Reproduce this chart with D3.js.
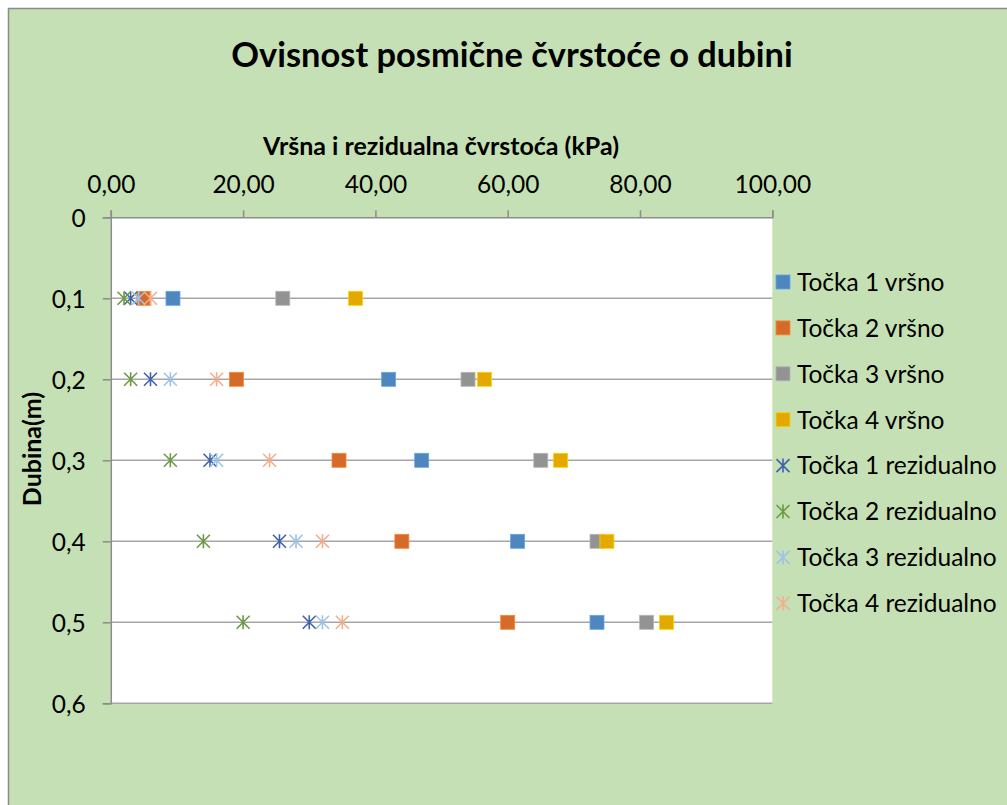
<!DOCTYPE html>
<html>
<head>
<meta charset="utf-8">
<script src="https://cdn.jsdelivr.net/npm/d3@7"></script>
<style>
  body { margin: 0; background: #fff; }
  text { font-family: Lato, "Open Sans", sans-serif; fill: #000; }
</style>
</head>
<body>
<svg></svg>
<script>
// depths (m) and strengths (kPa)
var depths = [0.1, 0.2, 0.3, 0.4, 0.5];
var t1Vrsno = [9.4, 42.0, 47.0, 61.5, 73.5];
var t2Vrsno = [5.0, 19.0, 34.5, 44.0, 60.0];
var t3Vrsno = [26.0, 54.0, 65.0, 73.5, 81.0];
var t4Vrsno = [37.0, 56.5, 68.0, 75.0, 84.0];
var t1Rez = [3.0, 6.0, 15.0, 25.5, 30.0];
var t2Rez = [2.0, 3.0, 9.0, 14.0, 20.0];
var t3Rez = [4.2, 9.0, 16.0, 28.0, 32.0];
var t4Rez = [6.0, 16.0, 24.0, 32.0, 35.0];
var xTicks = [0, 20, 40, 60, 80, 100];
var yTicks = [0, 0.1, 0.2, 0.3, 0.4, 0.5, 0.6];

var series = [
    { name: 'Točka 1 vršno', values: t1Vrsno, shape: 'square', color: '#4f86bd' },
    { name: 'Točka 2 vršno', values: t2Vrsno, shape: 'square', color: '#d56b2a' },
    { name: 'Točka 3 vršno', values: t3Vrsno, shape: 'square', color: '#939393' },
    { name: 'Točka 4 vršno', values: t4Vrsno, shape: 'square', color: '#e3a900' },
    { name: 'Točka 1 rezidualno', values: t1Rez, shape: 'star', color: '#3f62ae' },
    { name: 'Točka 2 rezidualno', values: t2Rez, shape: 'star', color: '#6b9a42' },
    { name: 'Točka 3 rezidualno', values: t3Rez, shape: 'star', color: '#9ec2e8' },
    { name: 'Točka 4 rezidualno', values: t4Rez, shape: 'star', color: '#f3ae8c' }
];

document.addEventListener("DOMContentLoaded", (event) => {
    drawChart();
});

function drawMarker(sel, shape, color) {
    if (shape === 'square') {
        sel.append('rect')
            .attr('x', -7).attr('y', -7)
            .attr('width', 14).attr('height', 14)
            .attr('fill', color)
            .attr('stroke', d3.color(color).brighter(0.6))
            .attr('stroke-width', 0.8);
    } else {
        var s = 6.5;
        sel.append('path')
            .attr('d', 'M' + (-s) + ',' + (-s) + 'L' + s + ',' + s +
                       'M' + (-s) + ',' + s + 'L' + s + ',' + (-s) +
                       'M0,' + (-s - 0.5) + 'L0,' + (s + 0.5))
            .attr('fill', 'none')
            .attr('stroke', color)
            .attr('stroke-width', 1.6);
    }
}

function drawChart() {
    var svgWidth = 1007, svgHeight = 805;
    var plot = { left: 110.8, top: 217.3, right: 772.3, bottom: 703.3 };
    var width = plot.right - plot.left;
    var height = plot.bottom - plot.top;

    var svg = d3.select('svg')
        .attr('width', svgWidth)
        .attr('height', svgHeight);

    // chart area
    svg.append('rect')
        .attr('x', 8.5).attr('y', 8.5)
        .attr('width', 1020).attr('height', 820)
        .attr('fill', '#c5e0b4')
        .attr('stroke', '#8c8c8c')
        .attr('stroke-width', 1.5);

    var g = svg.append('g')
        .attr('transform', 'translate(' + plot.left + ',' + plot.top + ')');

    g.append('rect')
        .attr('width', width).attr('height', height)
        .attr('fill', '#fff');

    var x = d3.scaleLinear().domain([0, 100]).range([0, width]);
    var y = d3.scaleLinear().domain([0, 0.6]).range([0, height]);

    // horizontal gridlines
    g.selectAll('.grid')
        .data(yTicks.slice(1))
        .enter().append('line')
        .attr('x1', 0).attr('x2', width)
        .attr('y1', (d) => y(d)).attr('y2', (d) => y(d))
        .attr('stroke', '#a6a6a6')
        .attr('stroke-width', 1.5);

    var xAxis = g.append('g')
        .call(d3.axisTop(x).tickValues(xTicks).tickSize(7).tickPadding(17)
            .tickFormat((d) => d3.format('.2f')(d).replace('.', ',')));

    var yAxis = g.append('g')
        .call(d3.axisLeft(y).tickValues(yTicks).tickSize(8).tickPadding(17)
            .tickFormat((d) => d === 0 ? '0' : d3.format('.1f')(d).replace('.', ',')));

    [xAxis, yAxis].forEach((a) => {
        a.select('.domain').attr('stroke', '#8c8c8c').attr('stroke-width', 1.5);
        a.selectAll('.tick line').attr('stroke', '#8c8c8c').attr('stroke-width', 1.5);
        a.selectAll('.tick text')
            .attr('font-family', 'Lato, sans-serif')
            .attr('font-size', 24.5)
            .attr('fill', '#000');
    });
    yAxis.selectAll('.tick text').attr('dy', '0.36em');

    // markers
    series.forEach((s) => {
        var pts = g.append('g').selectAll('g')
            .data(s.values.map((v, i) => ({ v: v, d: depths[i] })))
            .enter().append('g')
            .attr('transform', (d) => 'translate(' + x(d.v) + ',' + y(d.d) + ')');
        drawMarker(pts, s.shape, s.color);
    });

    // titles
    svg.append('text')
        .attr('x', 512).attr('y', 67)
        .attr('text-anchor', 'middle')
        .attr('font-size', 34.4).attr('font-weight', 'bold')
        .text('Ovisnost posmične čvrstoće o dubini');

    svg.append('text')
        .attr('x', 441).attr('y', 155)
        .attr('text-anchor', 'middle')
        .attr('font-size', 25).attr('font-weight', 'bold')
        .text('Vršna i rezidualna čvrstoća (kPa)');

    svg.append('text')
        .attr('transform', 'translate(41,449) rotate(-90)')
        .attr('text-anchor', 'middle')
        .attr('font-size', 25).attr('font-weight', 'bold')
        .text('Dubina(m)');

    // legend
    var legend = svg.append('g').attr('transform', 'translate(783,282)');
    series.forEach((s, i) => {
        var row = legend.append('g').attr('transform', 'translate(0,' + (i * 45.9) + ')');
        drawMarker(row, s.shape, s.color);
        row.append('text')
            .attr('x', 14).attr('y', 0).attr('dy', '0.36em')
            .attr('font-size', 24.5)
            .text(s.name);
    });
}
</script>
</body>
</html>
